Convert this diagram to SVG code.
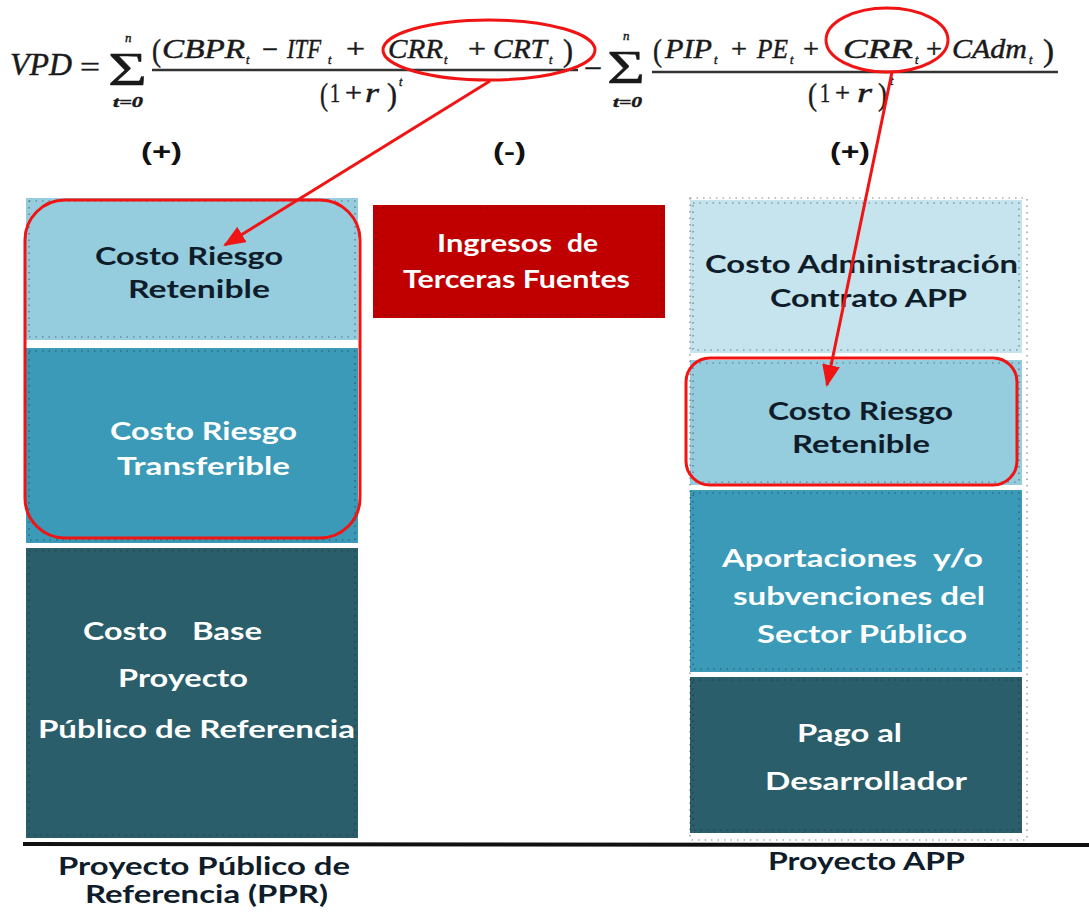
<svg xmlns="http://www.w3.org/2000/svg" width="1089" height="916" viewBox="0 0 1089 916">
  <style>
    .m { font-family: "Liberation Serif", "Times New Roman", serif; fill: #1a1a1a; stroke: #1a1a1a; stroke-width: 0.45; }
    .mi { font-style: italic; }
    .lbl { font-family: Lato, "Open Sans", "Liberation Sans", sans-serif; font-weight: bold; font-size: 24px; }
    .dk { fill: #0f1d2b; }
    .wh { fill: #ffffff; }
    .sign { font-family: "Liberation Sans", Arial, sans-serif; font-weight: bold; font-size: 24px; fill: #111; }
    .dots { fill: none; stroke: #222; stroke-width: 1.2; stroke-dasharray: 1.5 5; opacity: 0.55; }
    .hl { fill: none; stroke: #f01414; stroke-width: 3; }
    .arrow { stroke: #f01414; stroke-width: 3; fill: none; marker-end: url(#head); }
    .bar { stroke: #333; stroke-width: 2.5; }
  </style>
  <defs>
    <marker id="head" markerUnits="userSpaceOnUse" markerWidth="22" markerHeight="18" viewBox="0 0 22 18" refX="20" refY="9" orient="auto">
      <path d="M0,0 L22,9 L0,18 Z" fill="#f01414"/>
    </marker>
  </defs>

  <rect width="1089" height="916" fill="#ffffff"/>

  <!-- Formula: VPD = sum(...) - sum(...) -->
  <g id="formula">
    <text class="m mi" x="10" y="75" font-size="31" textLength="62" lengthAdjust="spacingAndGlyphs">VPD</text>
    <text class="m" x="80" y="76" font-size="28" textLength="20" lengthAdjust="spacingAndGlyphs">=</text>

    <!-- first sum -->
    <text class="m" x="108" y="85" font-size="46" textLength="39" lengthAdjust="spacingAndGlyphs">Σ</text>
    <text class="m mi" x="125" y="42" font-size="13">n</text>
    <text class="m mi" x="113" y="107" font-size="15" font-weight="bold" textLength="30" lengthAdjust="spacingAndGlyphs">t=0</text>

    <text class="m" x="152" y="61" font-size="31" textLength="9" lengthAdjust="spacingAndGlyphs">(</text>
    <text class="m mi" x="162" y="58" font-size="27" textLength="83" lengthAdjust="spacingAndGlyphs">CBPR</text>
    <text class="m mi" x="246" y="64" font-size="12">t</text>
    <text class="m" x="262" y="58" font-size="27" textLength="16" lengthAdjust="spacingAndGlyphs">−</text>
    <text class="m mi" x="287" y="58" font-size="27" textLength="34" lengthAdjust="spacingAndGlyphs">ITF</text>
    <text class="m mi" x="328" y="64" font-size="12">t</text>
    <text class="m" x="346" y="58" font-size="27" textLength="19" lengthAdjust="spacingAndGlyphs">+</text>
    <text class="m mi" x="388" y="58" font-size="27" textLength="55" lengthAdjust="spacingAndGlyphs">CRR</text>
    <text class="m mi" x="444" y="64" font-size="12">t</text>
    <text class="m" x="468" y="58" font-size="27" textLength="18" lengthAdjust="spacingAndGlyphs">+</text>
    <text class="m mi" x="493" y="58" font-size="27" textLength="54" lengthAdjust="spacingAndGlyphs">CRT</text>
    <text class="m mi" x="549" y="64" font-size="12">t</text>
    <text class="m" x="563" y="61" font-size="31" textLength="10" lengthAdjust="spacingAndGlyphs">)</text>
    <line class="bar" x1="152" y1="70" x2="578" y2="70"/>

    <text class="m" x="320" y="105" font-size="31" textLength="8" lengthAdjust="spacingAndGlyphs">(</text>
    <text class="m" x="330" y="102" font-size="27" textLength="10" lengthAdjust="spacingAndGlyphs">1</text>
    <text class="m" x="345" y="102" font-size="27" textLength="17" lengthAdjust="spacingAndGlyphs">+</text>
    <text class="m mi" x="365" y="102" font-size="27" textLength="14" lengthAdjust="spacingAndGlyphs">r</text>
    <text class="m" x="387" y="105" font-size="31" textLength="10" lengthAdjust="spacingAndGlyphs">)</text>
    <text class="m mi" x="399" y="86" font-size="12">t</text>

    <text class="m" x="584" y="77" font-size="27" textLength="18" lengthAdjust="spacingAndGlyphs">−</text>

    <!-- second sum -->
    <text class="m" x="607" y="83" font-size="46" textLength="38" lengthAdjust="spacingAndGlyphs">Σ</text>
    <text class="m mi" x="623" y="40" font-size="13">n</text>
    <text class="m mi" x="613" y="107" font-size="15" font-weight="bold" textLength="29" lengthAdjust="spacingAndGlyphs">t=0</text>

    <text class="m" x="653" y="61" font-size="31" textLength="9" lengthAdjust="spacingAndGlyphs">(</text>
    <text class="m mi" x="665" y="58" font-size="27" textLength="47" lengthAdjust="spacingAndGlyphs">PIP</text>
    <text class="m mi" x="714" y="64" font-size="12">t</text>
    <text class="m" x="731" y="58" font-size="27" textLength="16" lengthAdjust="spacingAndGlyphs">+</text>
    <text class="m mi" x="757" y="58" font-size="27" textLength="31" lengthAdjust="spacingAndGlyphs">PE</text>
    <text class="m mi" x="790" y="64" font-size="12">t</text>
    <text class="m" x="803" y="58" font-size="27" textLength="16" lengthAdjust="spacingAndGlyphs">+</text>
    <text class="m mi" x="843" y="58" font-size="27" textLength="70" lengthAdjust="spacingAndGlyphs">CRR</text>
    <text class="m mi" x="915" y="64" font-size="12">t</text>
    <text class="m" x="926" y="58" font-size="27" textLength="16" lengthAdjust="spacingAndGlyphs">+</text>
    <text class="m mi" x="952" y="58" font-size="27" textLength="75" lengthAdjust="spacingAndGlyphs">CAdm</text>
    <text class="m mi" x="1029" y="64" font-size="12">t</text>
    <text class="m" x="1043" y="61" font-size="31" textLength="11" lengthAdjust="spacingAndGlyphs">)</text>
    <line class="bar" x1="652" y1="72" x2="1058" y2="72"/>

    <text class="m" x="808" y="105" font-size="31" textLength="9" lengthAdjust="spacingAndGlyphs">(</text>
    <text class="m" x="820" y="102" font-size="27" textLength="10" lengthAdjust="spacingAndGlyphs">1</text>
    <text class="m" x="835" y="102" font-size="27" textLength="15" lengthAdjust="spacingAndGlyphs">+</text>
    <text class="m mi" x="857" y="102" font-size="27" textLength="15" lengthAdjust="spacingAndGlyphs">r</text>
    <text class="m" x="878" y="105" font-size="31" textLength="9" lengthAdjust="spacingAndGlyphs">)</text>
    <text class="m mi" x="890" y="85" font-size="12">t</text>
  </g>

  <!-- sign labels -->
  <g id="signs">
    <text class="sign" x="141" y="160" textLength="41" lengthAdjust="spacingAndGlyphs">(+)</text>
    <text class="sign" x="493" y="160" textLength="33" lengthAdjust="spacingAndGlyphs">(-)</text>
    <text class="sign" x="830" y="160" textLength="40" lengthAdjust="spacingAndGlyphs">(+)</text>
  </g>

  <!-- Left column: reference public project -->
  <g id="ppr-retenible">
    <rect x="26" y="198" width="332" height="142" fill="#96cdde"/>
    <rect class="dots" x="29" y="201" width="326" height="136"/>
    <text class="lbl dk" x="95" y="265" textLength="188" lengthAdjust="spacingAndGlyphs">Costo Riesgo</text>
    <text class="lbl dk" x="128" y="298" textLength="142" lengthAdjust="spacingAndGlyphs">Retenible</text>
  </g>
  <g id="ppr-transferible">
    <rect x="26" y="348" width="332" height="195" fill="#3a9ab8"/>
    <rect class="dots" x="29" y="351" width="326" height="189"/>
    <text class="lbl wh" x="110" y="440" textLength="187" lengthAdjust="spacingAndGlyphs">Costo Riesgo</text>
    <text class="lbl wh" x="117" y="475" textLength="173" lengthAdjust="spacingAndGlyphs">Transferible</text>
  </g>
  <g id="ppr-base">
    <rect x="26" y="548" width="332" height="290" fill="#2a5e6a"/>
    <rect class="dots" x="29" y="551" width="326" height="284"/>
    <text class="lbl wh" x="83" y="640" textLength="84" lengthAdjust="spacingAndGlyphs">Costo</text>
    <text class="lbl wh" x="192" y="640" textLength="70" lengthAdjust="spacingAndGlyphs">Base</text>
    <text class="lbl wh" x="118" y="687" textLength="130" lengthAdjust="spacingAndGlyphs">Proyecto</text>
    <text class="lbl wh" x="38" y="738" textLength="317" lengthAdjust="spacingAndGlyphs">Público de Referencia</text>
  </g>
  <g id="ppr-label">
    <text class="lbl dk" x="58" y="875" textLength="292" lengthAdjust="spacingAndGlyphs">Proyecto Público de</text>
    <text class="lbl dk" x="85" y="903" textLength="243" lengthAdjust="spacingAndGlyphs">Referencia (PPR)</text>
  </g>

  <!-- Middle: third-party income -->
  <g id="itf">
    <rect x="373" y="205" width="292" height="113" fill="#c00000"/>
    <rect class="dots" x="376" y="208" width="286" height="107"/>
    <text class="lbl wh" x="437" y="252" textLength="115" lengthAdjust="spacingAndGlyphs">Ingresos</text>
    <text class="lbl wh" x="567" y="252" textLength="31" lengthAdjust="spacingAndGlyphs">de</text>
    <text class="lbl wh" x="403" y="288" textLength="227" lengthAdjust="spacingAndGlyphs">Terceras Fuentes</text>
  </g>

  <!-- Right column: PPP project -->
  <g id="app-admin">
    <rect x="690" y="200" width="332" height="153" fill="#c6e4ed"/>
    <rect class="dots" x="693" y="203" width="326" height="147"/>
    <text class="lbl dk" x="705" y="273" textLength="313" lengthAdjust="spacingAndGlyphs">Costo Administración</text>
    <text class="lbl dk" x="770" y="307" textLength="197" lengthAdjust="spacingAndGlyphs">Contrato APP</text>
  </g>
  <g id="app-retenible">
    <rect x="690" y="360" width="332" height="125" fill="#96cdde"/>
    <rect class="dots" x="693" y="363" width="326" height="119"/>
    <text class="lbl dk" x="768" y="420" textLength="185" lengthAdjust="spacingAndGlyphs">Costo Riesgo</text>
    <text class="lbl dk" x="792" y="453" textLength="138" lengthAdjust="spacingAndGlyphs">Retenible</text>
  </g>
  <g id="app-aportaciones">
    <rect x="690" y="490" width="332" height="182" fill="#3a9ab8"/>
    <rect class="dots" x="693" y="493" width="326" height="176"/>
    <text class="lbl wh" x="722" y="567" textLength="195" lengthAdjust="spacingAndGlyphs">Aportaciones</text>
    <text class="lbl wh" x="933" y="567" textLength="50" lengthAdjust="spacingAndGlyphs">y/o</text>
    <text class="lbl wh" x="733" y="605" textLength="252" lengthAdjust="spacingAndGlyphs">subvenciones del</text>
    <text class="lbl wh" x="757" y="643" textLength="210" lengthAdjust="spacingAndGlyphs">Sector Público</text>
  </g>
  <g id="app-pago">
    <rect x="690" y="677" width="332" height="156" fill="#2a5e6a"/>
    <rect class="dots" x="693" y="680" width="326" height="150"/>
    <text class="lbl wh" x="797" y="742" textLength="105" lengthAdjust="spacingAndGlyphs">Pago al</text>
    <text class="lbl wh" x="765" y="790" textLength="202" lengthAdjust="spacingAndGlyphs">Desarrollador</text>
  </g>
  <rect class="dots" x="690" y="198" width="337" height="642"/>
  <g id="app-label">
    <text class="lbl dk" x="768" y="870" textLength="197" lengthAdjust="spacingAndGlyphs">Proyecto APP</text>
  </g>

  <!-- ground line -->
  <line x1="23" y1="844" x2="1089" y2="845" stroke="#111" stroke-width="4"/>

  <!-- Highlights and connectors -->
  <g id="connectors">
    <rect class="hl" x="25" y="200" width="335" height="338" rx="40" ry="40"/>
    <rect class="hl" x="686" y="358" width="331" height="127" rx="24" ry="24"/>
    <ellipse class="hl" cx="489" cy="50" rx="106" ry="30"/>
    <ellipse class="hl" cx="887" cy="40" rx="61" ry="32"/>
    <line class="arrow" x1="490" y1="81" x2="225" y2="245"/>
    <line class="arrow" x1="892" y1="72" x2="827" y2="385"/>
  </g>
</svg>
